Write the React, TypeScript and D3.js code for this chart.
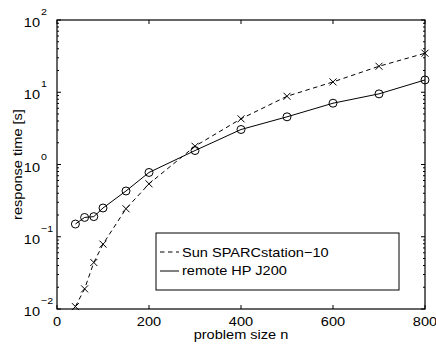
import React from "react";
import * as d3 from "d3";

const sizes = [40, 60, 80, 100, 150, 200, 300, 400, 500, 600, 700, 800];
const sunTimes = [0.0108, 0.019, 0.044, 0.079, 0.244, 0.54, 1.79, 4.29, 8.8, 13.9, 22.9, 34.7];
const hpTimes = [0.15, 0.185, 0.19, 0.25, 0.43, 0.776, 1.56, 3.05, 4.57, 7.05, 9.5, 14.8];
const xTicks = [0, 200, 400, 600, 800];
const yExponents = [-2, -1, 0, 1, 2];
const seriesNames = ["Sun SPARCstation\u221210", "remote HP J200"];

const W = 436, H = 345;
const L = 57, R = 425, T = 20, B = 309;
const FONT = "Liberation Sans, Arial, Helvetica, sans-serif";
const FS = 13;
const SX = 1.12;

function Txt(props: { x: number; y: number; anchor?: string; size?: number; rot?: number; children: React.ReactNode }) {
  const { x, y, anchor = "start", size = FS, rot = 0, children } = props;
  return (
    <text
      transform={`translate(${x},${y}) rotate(${rot}) scale(${SX},1)`}
      textAnchor={anchor}
      fontSize={size}
      fill="#000"
    >
      {children}
    </text>
  );
}

export default function App() {
  const x = d3.scaleLinear().domain([0, 800]).range([L, R]);
  const y = d3.scaleLog().domain([0.01, 100]).range([B, T]);
  const line = d3.line<number>().x((_, i) => x(sizes[i])).y((v) => y(v));

  const minor: number[] = [];
  for (let e = -2; e < 2; e++) for (let m = 2; m <= 9; m++) minor.push(m * Math.pow(10, e));

  const cross = (cx: number, cy: number, k: string) => (
    <path key={k} d={`M${cx - 3.5},${cy - 3.5}L${cx + 3.5},${cy + 3.5}M${cx - 3.5},${cy + 3.5}L${cx + 3.5},${cy - 3.5}`} stroke="#000" strokeWidth={1} fill="none" />
  );

  const legX = 156, legY = 233, legW = 243, legH = 57;

  return (
    <svg width={W} height={H} style={{ position: "absolute", left: 0, top: 0, background: "#fff" }} fontFamily={FONT}>
      <rect x={0} y={0} width={W} height={H} fill="#fff" />
      {minor.map((v, i) => (
        <g key={"mn" + i}>
          <line x1={L} x2={L + 2} y1={y(v)} y2={y(v)} stroke="#000" />
          <line x1={R} x2={R - 2} y1={y(v)} y2={y(v)} stroke="#000" />
        </g>
      ))}
      {yExponents.map((e) => {
        const yy = y(Math.pow(10, e));
        return (
          <g key={"ye" + e}>
            <line x1={L} x2={L + 4} y1={yy} y2={yy} stroke="#000" />
            <line x1={R} x2={R - 4} y1={yy} y2={yy} stroke="#000" />
            <Txt x={40} y={yy + 7} anchor="end">10</Txt>
            <Txt x={41} y={yy - 5} size={9.5}>{e < 0 ? "\u2212" + Math.abs(e) : String(e)}</Txt>
          </g>
        );
      })}
      {xTicks.map((t) => (
        <g key={"xt" + t}>
          <line x1={x(t)} x2={x(t)} y1={B} y2={B - 4} stroke="#000" />
          <line x1={x(t)} x2={x(t)} y1={T} y2={T + 4} stroke="#000" />
          <Txt x={x(t)} y={325.7} anchor="middle">{t}</Txt>
        </g>
      ))}
      <path d={line(sunTimes) || ""} fill="none" stroke="#000" strokeWidth={1} strokeDasharray="4.5,3.5" />
      <path d={line(hpTimes) || ""} fill="none" stroke="#000" strokeWidth={1} />
      {sunTimes.map((v, i) => cross(x(sizes[i]), y(v), "c" + i))}
      {hpTimes.map((v, i) => (
        <circle key={"o" + i} cx={x(sizes[i])} cy={y(v)} r={4} fill="none" stroke="#000" strokeWidth={1} />
      ))}
      <rect x={L} y={T} width={R - L} height={B - T} fill="none" stroke="#000" strokeWidth={1.2} />
      <rect x={legX} y={legY} width={legW} height={legH} fill="#fff" stroke="#000" strokeWidth={1} />
      <line x1={160} x2={179} y1={252} y2={252} stroke="#000" strokeDasharray="4.5,3.5" />
      <Txt x={182} y={256.5}>{seriesNames[0]}</Txt>
      <line x1={160} x2={179} y1={271} y2={271} stroke="#000" />
      <Txt x={182} y={275}>{seriesNames[1]}</Txt>
      <Txt x={(L + R) / 2} y={339.3} anchor="middle">problem size n</Txt>
      <Txt x={22} y={(T + B) / 2} anchor="middle" rot={-90}>response time [s]</Txt>
    </svg>
  );
}
